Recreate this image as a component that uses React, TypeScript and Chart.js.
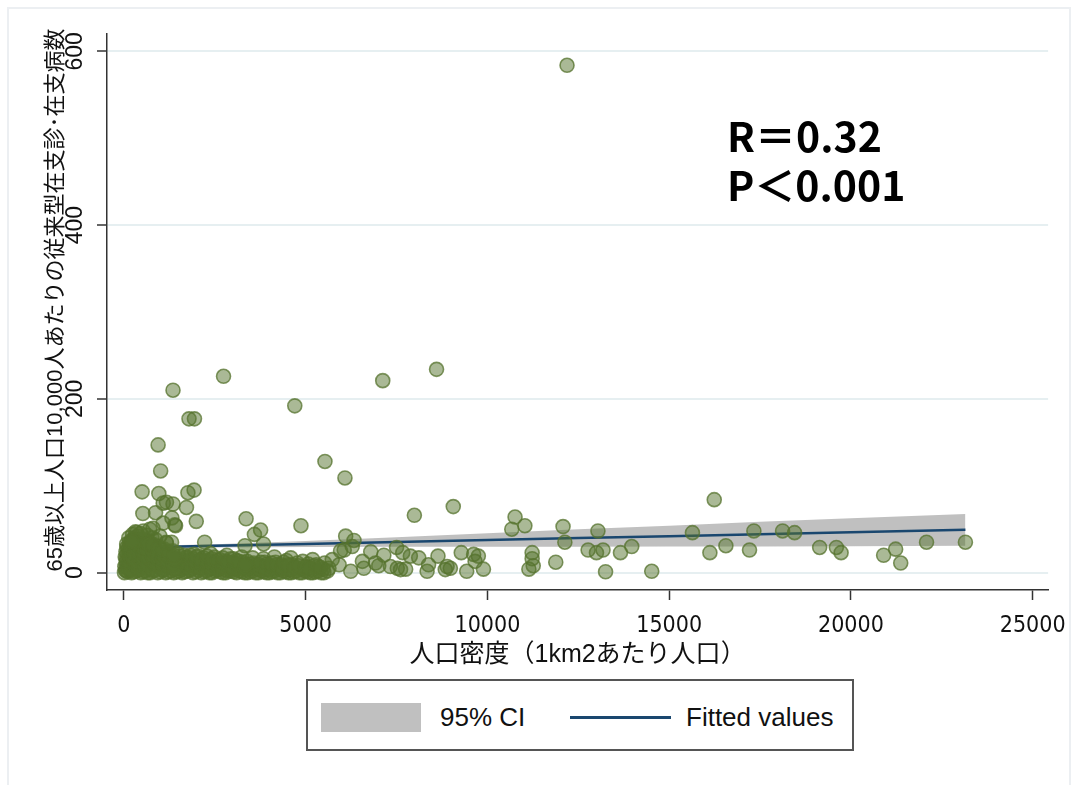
import React, { useEffect, useRef } from "react";
import { Chart, registerables } from "chart.js";

Chart.register(...registerables);

// ---------- tick labels / texts ----------
const xTickValues = [0, 5000, 10000, 15000, 20000, 25000];
const yTickValues = [0, 200, 400, 600];
const xTitle = "人口密度（1km2あたり人口）";
const yTitle = "65歳以上人口10,000人あたりの従来型在支診･在支病数";
const statLines = ["R＝0.32", "P＜0.001"];
const legendLabels = ["95% CI", "Fitted values"];

// ---------- scatter data (population density, clinics per 10,000 aged 65+) ----------
const outlierPoints: [number, number][] = [
  [12190, 584], [8600, 234], [7120, 221], [2740, 226], [1350, 210], [4700, 192],
  [1790, 177], [1940, 177], [940, 147], [1010, 117], [5530, 128], [6080, 109],
  [500, 93], [960, 91], [1760, 92], [1930, 95], [9060, 76], [7990, 66], [16240, 84],
];

const upperClusterPoints: [number, number][] = [
  [1170, 81], [1350, 79], [1080, 80], [1720, 75], [520, 68], [870, 69], [1990, 59],
  [1320, 63], [1420, 54], [1080, 57], [3360, 62], [4870, 54], [3590, 44], [3760, 49],
  [2220, 35], [3330, 31], [3840, 33], [350, 46], [710, 50], [990, 42], [1170, 34],
  [1310, 35], [530, 48], [800, 51], [210, 36], [1400, 55],
];

const clusterCorePoints: [number, number][] = [
  [15, 0], [40, 3], [25, 7], [60, 12], [35, 18], [55, 24], [80, 29],
  [110, 1], [95, 5], [130, 10], [105, 15], [140, 21], [120, 28], [150, 34], [135, 40],
  [210, 0], [190, 4], [230, 8], [205, 13], [245, 19], [220, 25], [260, 32], [200, 37], [240, 44],
  [330, 2], [310, 6], [350, 11], [325, 17], [360, 23], [300, 29], [340, 36], [370, 42], [320, 47],
  [460, 0], [440, 5], [480, 9], [450, 14], [500, 20], [430, 27], [470, 33], [510, 39], [455, 45],
  [590, 2], [570, 7], [610, 12], [585, 18], [620, 24], [560, 31], [600, 37], [640, 43],
  [720, 0], [700, 4], [745, 9], [715, 15], [760, 21], [690, 28], [730, 34], [770, 40],
  [860, 3], [840, 8], [880, 13], [850, 19], [895, 26], [830, 32], [870, 38],
  [1000, 1], [980, 6], [1020, 11], [990, 17], [1040, 23], [960, 30],
  [1150, 0], [1120, 4], [1170, 9], [1140, 15], [1190, 21], [1110, 27], [1160, 35],
  [1300, 2], [1280, 7], [1320, 13], [1290, 19], [1340, 25],
  [1450, 1], [1430, 5], [1470, 10], [1440, 16], [1490, 22],
];

const clusterCoreExtraPoints: [number, number][] = [
  [70, 2], [85, 9], [65, 16], [90, 22], [75, 33],
  [170, 3], [160, 11], [175, 18], [165, 26], [180, 31],
  [275, 1], [285, 9], [265, 15], [290, 22], [280, 39],
  [400, 3], [390, 10], [410, 17], [395, 24], [405, 31], [385, 38],
  [520, 1], [530, 8], [515, 16], [540, 22], [525, 29], [535, 35],
  [655, 0], [650, 9], [660, 17], [645, 26], [665, 33],
  [790, 2], [800, 11], [785, 18], [805, 25], [795, 31],
  [930, 0], [925, 9], [935, 16], [920, 23], [940, 28],
  [1070, 3], [1080, 9], [1060, 15], [1085, 20], [1065, 26],
  [1220, 1], [1230, 7], [1210, 12], [1240, 18], [1225, 24],
  [1370, 0], [1380, 4], [1360, 9], [1390, 15], [1375, 20],
];

const clusterMidPoints: [number, number][] = [
  [1600, 0], [1580, 4], [1630, 9], [1610, 14], [1650, 20],
  [1750, 2], [1730, 7], [1770, 12], [1745, 18],
  [1900, 0], [1880, 5], [1920, 10], [1890, 16], [1930, 21],
  [2050, 3], [2030, 8], [2070, 13], [2040, 19],
  [2200, 1], [2180, 6], [2220, 11], [2190, 17],
  [2350, 0], [2330, 4], [2370, 9], [2340, 14], [2380, 22],
  [2500, 2], [2480, 7], [2520, 12], [2490, 18],
  [2650, 1], [2630, 5], [2670, 10], [2640, 15],
  [2800, 0], [2780, 3], [2820, 8], [2790, 13], [2830, 20],
  [2950, 2], [2930, 6], [2970, 11], [2940, 16],
  [3100, 0], [3080, 4], [3120, 9], [3090, 14],
  [3250, 1], [3230, 6], [3270, 12], [3240, 18],
];

const clusterMidExtraPoints: [number, number][] = [
  [1525, 2], [1540, 8], [1515, 13], [1535, 19],
  [1675, 1], [1690, 6], [1670, 11], [1685, 17],
  [1825, 3], [1815, 9], [1835, 14], [1820, 20],
  [1975, 1], [1990, 7], [1970, 12], [1985, 18],
  [2125, 0], [2110, 5], [2135, 10], [2120, 15],
  [2275, 2], [2290, 8], [2265, 13], [2280, 19],
  [2425, 0], [2410, 5], [2435, 10], [2420, 16],
  [2575, 3], [2590, 8], [2565, 14],
  [2725, 0], [2710, 6], [2740, 11], [2720, 17],
  [2875, 2], [2890, 7], [2865, 12],
  [3025, 1], [3010, 5], [3040, 11], [3020, 16],
  [3175, 2], [3190, 8], [3165, 13],
  [3325, 0], [3310, 5], [3340, 9],
];

const clusterTailPoints: [number, number][] = [
  [3400, 0], [3380, 3], [3420, 8], [3390, 13],
  [3550, 2], [3530, 6], [3570, 11], [3540, 17],
  [3700, 0], [3680, 4], [3720, 9],
  [3850, 1], [3830, 6], [3870, 12], [3840, 16],
  [4000, 0], [3980, 3], [4020, 8],
  [4150, 2], [4130, 6], [4170, 12], [4140, 18],
  [4300, 0], [4280, 4], [4320, 9],
  [4450, 1], [4430, 7], [4470, 14],
  [4600, 0], [4580, 3], [4620, 9], [4590, 17],
  [4750, 2], [4730, 6], [4770, 11],
  [4900, 0], [4880, 4], [4920, 13],
  [5050, 1], [5030, 6], [5070, 10],
  [5200, 0], [5180, 3], [5220, 8], [5190, 15],
  [5350, 2], [5330, 7],
  [5500, 0], [5480, 4], [5520, 11],
];

const clusterTailExtraPoints: [number, number][] = [
  [3475, 1], [3460, 6], [3490, 10],
  [3625, 0], [3640, 5], [3615, 9],
  [3775, 2], [3790, 7], [3765, 12],
  [3925, 0], [3910, 4], [3940, 10],
  [4075, 1], [4090, 6], [4060, 11],
  [4225, 0], [4240, 5], [4215, 9],
  [4375, 2], [4360, 6], [4390, 12],
  [4525, 0], [4540, 4], [4515, 9],
  [4675, 1], [4690, 6],
  [4825, 0], [4810, 8],
  [4975, 2], [4990, 7],
  [5125, 0], [5110, 5],
  [5275, 1], [5290, 9],
  [5425, 0], [5410, 6],
  [5600, 2],
];

const scatteredPoints: [number, number][] = [
  [10760, 64], [11030, 54], [10670, 50], [12080, 53], [12130, 35],
  [6100, 42], [6330, 37], [6280, 30], [6060, 26], [5960, 25], [6790, 24], [7150, 20],
  [7500, 29], [7670, 23], [7880, 19], [8110, 17], [8640, 19], [9280, 23], [9620, 21],
  [9750, 19], [9660, 13],
  [11230, 23], [11230, 16], [11260, 8], [11140, 4], [11880, 12],
  [5730, 15], [5920, 9], [5640, 5], [6240, 1.5], [6560, 13], [6600, 5], [6920, 11],
  [7010, 8], [7330, 7], [7520, 5], [7750, 4], [7610, 3.5], [8380, 9], [8340, 1.5],
  [8890, 7], [8980, 5], [8840, 3.5], [9430, 1.5], [9890, 4],
  [13040, 48], [12770, 26], [13000, 23], [13180, 26], [13660, 23], [13970, 30],
  [13250, 1], [14520, 1.5], [15640, 46], [16120, 23], [16560, 31], [17210, 26],
  [17330, 48], [18120, 48], [18450, 46], [19140, 29], [19600, 29], [19730, 23],
  [20900, 20], [21230, 27], [21370, 11], [22080, 35], [23150, 35],
];

// ---------- fitted line and 95% CI ----------
const fitX = [30, 2500, 5000, 7500, 10000, 12500, 15000, 17500, 20000, 23150];
const fitY = [28.5, 30.8, 33.0, 35.3, 37.5, 39.8, 42.0, 44.3, 46.5, 49.3];
const ciUpper = [30.5, 32.6, 36.5, 40.8, 45.3, 49.8, 54.0, 58.5, 62.7, 67.6];
const ciLower = [26.5, 29.0, 29.5, 29.8, 29.7, 29.8, 30.0, 30.1, 30.3, 31.0];

const FONT_LATIN = "'Liberation Sans', Arial, 'Noto Sans CJK JP', sans-serif";
const FONT_NARROW = "'Liberation Sans Narrow', 'DejaVu Sans Condensed', 'Liberation Sans', Arial, sans-serif";

const textPlugin = {
  id: "textPlugin",
  afterDraw(chart: any) {
    const { ctx, chartArea } = chart;
    const yScale = chart.scales.y;

    // statistics annotation
    ctx.save();
    ctx.fillStyle = "#000";
    ctx.font = "bold 41px 'Noto Sans CJK JP', 'Noto Sans', sans-serif";
    ctx.textAlign = "left";
    ctx.textBaseline = "alphabetic";
    ctx.fillText(statLines[0], chartArea.left + 620, chartArea.top + 118);
    ctx.fillText(statLines[1], chartArea.left + 620, chartArea.top + 167);
    ctx.restore();

    // y tick labels (rotated, reading bottom to top)
    ctx.save();
    ctx.fillStyle = "#111";
    ctx.font = "23px " + FONT_LATIN;
    ctx.textAlign = "center";
    ctx.textBaseline = "alphabetic";
    for (const v of yTickValues) {
      const py = yScale.getPixelForValue(v);
      ctx.save();
      ctx.translate(chartArea.left - 33, py);
      ctx.rotate(-Math.PI / 2);
      ctx.fillText(String(v), 0, 8.2);
      ctx.restore();
    }
    ctx.restore();

    // y-axis title (rotated, reading bottom to top)
    ctx.save();
    ctx.fillStyle = "#111";
    ctx.font = "22px " + FONT_LATIN;
    ctx.translate(chartArea.left - 51, chartArea.top + 266);
    ctx.rotate(-Math.PI / 2);
    ctx.textAlign = "center";
    ctx.textBaseline = "middle";
    ctx.fillText(yTitle, 0, 0);
    ctx.restore();
  },
};

export default function App() {
  const canvasRef = useRef<HTMLCanvasElement>(null);

  useEffect(() => {
    const toXY = (arr: [number, number][]) => arr.map(([x, y]) => ({ x, y }));
    const allPoints = [
      ...toXY(clusterTailPoints),
      ...toXY(clusterTailExtraPoints),
      ...toXY(clusterMidPoints),
      ...toXY(clusterMidExtraPoints),
      ...toXY(clusterCorePoints),
      ...toXY(clusterCoreExtraPoints),
      ...toXY(upperClusterPoints),
      ...toXY(scatteredPoints),
      ...toXY(outlierPoints),
    ];
    const chart = new Chart(canvasRef.current as HTMLCanvasElement, {
      type: "scatter",
      data: {
        datasets: [
          {
            type: "scatter",
            label: "points",
            data: allPoints,
            pointRadius: 7,
            pointBorderWidth: 1.6,
            pointBackgroundColor: "rgba(85,115,45,0.5)",
            pointBorderColor: "rgba(85,115,45,0.75)",
            order: 0,
          },
          {
            type: "line",
            label: legendLabels[1],
            data: fitX.map((x, i) => ({ x, y: fitY[i] })),
            borderColor: "#1a476f",
            borderWidth: 2.5,
            pointRadius: 0,
            fill: false,
            tension: 0,
            order: 1,
          },
          {
            type: "line",
            label: legendLabels[0],
            data: fitX.map((x, i) => ({ x, y: ciUpper[i] })),
            borderWidth: 0,
            borderColor: "rgba(0,0,0,0)",
            backgroundColor: "rgba(150,150,150,0.6)",
            pointRadius: 0,
            fill: "+1",
            tension: 0,
            order: 2,
          },
          {
            type: "line",
            label: "lower",
            data: fitX.map((x, i) => ({ x, y: ciLower[i] })),
            borderWidth: 0,
            borderColor: "rgba(0,0,0,0)",
            pointRadius: 0,
            fill: false,
            tension: 0,
            order: 3,
          },
        ],
      },
      options: {
        responsive: false,
        animation: false,
        events: [],
        layout: { padding: { top: 34, right: 26, left: 0, bottom: 0 } },
        plugins: {
          legend: { display: false },
          tooltip: { enabled: false },
        },
        scales: {
          x: {
            type: "linear",
            min: -466,
            max: 25425,
            afterBuildTicks: (scale: any) => {
              scale.ticks = xTickValues.map((v) => ({ value: v }));
            },
            afterFit: (scale: any) => {
              scale.height = 90;
            },
            ticks: {
              autoSkip: false,
              maxRotation: 0,
              padding: 12,
              color: "#111",
              font: { family: FONT_NARROW, size: 23 },
              callback: (v: any) => String(v),
            },
            grid: {
              drawOnChartArea: false,
              drawTicks: true,
              tickLength: 10,
              tickColor: "#333",
              tickWidth: 1.5,
            },
            border: { display: true, color: "#333", width: 1.5 },
            title: {
              display: true,
              text: xTitle,
              color: "#111",
              font: { family: FONT_LATIN, size: 25 },
              padding: { top: 0, bottom: 10 },
            },
          },
          y: {
            type: "linear",
            min: -20,
            max: 620,
            afterBuildTicks: (scale: any) => {
              scale.ticks = yTickValues.map((v) => ({ value: v }));
            },
            afterFit: (scale: any) => {
              scale.width = 107;
            },
            ticks: {
              display: false,
              autoSkip: false,
            },
            grid: {
              drawOnChartArea: true,
              color: "#e6eff1",
              lineWidth: 2,
              drawTicks: true,
              tickLength: 10,
              tickColor: "#333",
              tickWidth: 1.5,
            },
            border: { display: true, color: "#333", width: 1.5 },
            title: { display: false },
          },
        },
      } as any,
      plugins: [textPlugin],
    } as any);
    return () => chart.destroy();
  }, []);

  return (
    <div
      style={{
        position: "absolute",
        left: 0,
        top: 0,
        width: 1078,
        height: 785,
        overflow: "hidden",
        background: "#fff",
      }}
    >
      <div
        style={{
          position: "absolute",
          left: 7,
          top: 7,
          width: 1064,
          height: 800,
          border: "2px solid #eceff2",
          boxSizing: "border-box",
        }}
      />
      <canvas
        ref={canvasRef}
        width={1078}
        height={680}
        style={{ position: "absolute", left: 0, top: 0, width: 1078, height: 680 }}
      />
      <div
        style={{
          position: "absolute",
          left: 306,
          top: 679,
          width: 548,
          height: 72,
          border: "2px solid #555",
          boxSizing: "border-box",
          background: "#fff",
          fontFamily: FONT_LATIN,
          fontSize: 26,
          color: "#111",
        }}
      >
        <div style={{ position: "absolute", left: 13, top: 22, width: 100, height: 29, background: "#c0c0c0" }} />
        <span style={{ position: "absolute", left: 132, top: 21, lineHeight: "30px", whiteSpace: "nowrap" }}>
          {legendLabels[0]}
        </span>
        <div style={{ position: "absolute", left: 262, top: 35, width: 101, height: 2.5, background: "#1a476f" }} />
        <span style={{ position: "absolute", left: 378, top: 21, lineHeight: "30px", whiteSpace: "nowrap" }}>
          {legendLabels[1]}
        </span>
      </div>
    </div>
  );
}
